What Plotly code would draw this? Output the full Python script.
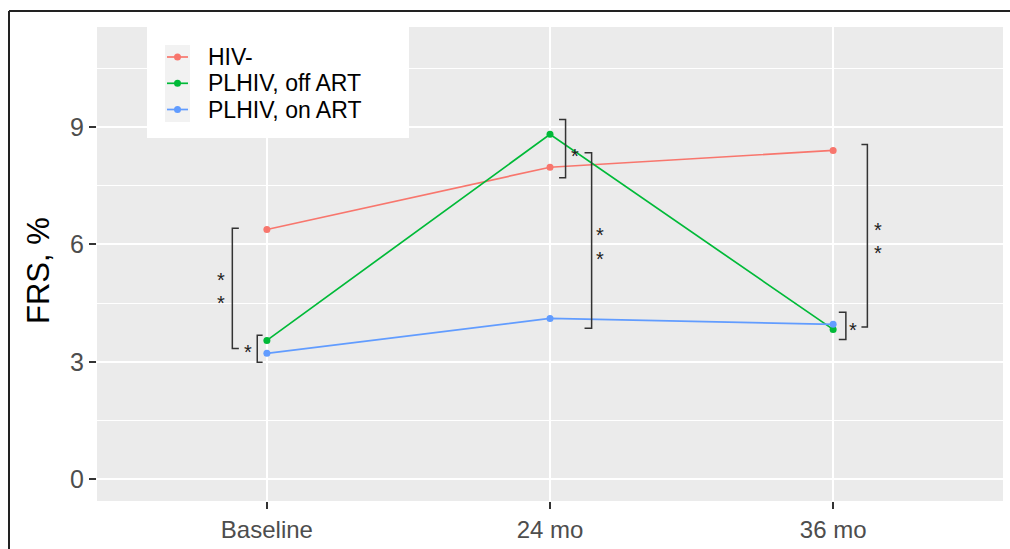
import plotly.graph_objects as go

# ---- data ----
timepoints = ["Baseline", "24 mo", "36 mo"]
x_pos = [1, 2, 3]
groups = ["HIV-", "PLHIV, off ART", "PLHIV, on ART"]
colors = ["#F8766D", "#00BA38", "#619CFF"]
frs_hiv_neg = [6.38, 7.97, 8.40]
frs_off_art = [3.55, 8.81, 3.83]
frs_on_art = [3.22, 4.11, 3.96]
series = [frs_hiv_neg, frs_off_art, frs_on_art]

y_ticks = [0, 3, 6, 9]
y_minor = [1.5, 4.5, 7.5, 10.5]
y_title = "FRS, %"

# significance brackets (x of vertical bar, x of tips, y bottom, y top)
br_x = [0.878, 0.966, 2.055, 2.147, 3.121, 3.045]
br_tip = [0.901, 0.985, 2.032, 2.122, 3.100, 3.020]
br_y0 = [3.34, 2.99, 7.70, 3.86, 3.89, 3.57]
br_y1 = [6.41, 3.68, 9.19, 8.34, 8.55, 4.27]
# significance stars
star_x = [0.839, 0.839, 0.932, 2.088, 2.175, 2.175, 3.158, 3.158, 3.070]
star_y = [5.19, 4.60, 3.36, 8.36, 6.34, 5.73, 6.48, 5.89, 3.91]

W, H = 1010, 549
L, R, T, B = 97, 7, 27, 48
PW, PH = W - L - R, H - T - B

def px(xp):
    return (xp - L) / PW

def py(yp):
    return (H - B - yp) / PH

fig = go.Figure()
for name, vals, col in zip(groups, series, colors):
    fig.add_trace(go.Scatter(
        x=x_pos, y=vals, mode="lines+markers", name=name,
        line=dict(color=col, width=1.7),
        marker=dict(color=col, size=7),
        showlegend=False, hoverinfo="skip"))

shapes = []
br_col = "#333333"
for bx, bt, y0, y1 in zip(br_x, br_tip, br_y0, br_y1):
    shapes.append(dict(type="path", xref="x", yref="y",
                       path=f"M {bt},{y1} L {bx},{y1} L {bx},{y0} L {bt},{y0}",
                       line=dict(color=br_col, width=1.5)))

annotations = []
for sx, sy in zip(star_x, star_y):
    annotations.append(dict(x=sx, y=sy, xref="x", yref="y", text="*",
                            showarrow=False, yshift=-4,
                            font=dict(family="Liberation Sans", size=20, color="#222222")))

# y axis title
annotations.append(dict(x=px(38), y=py(271), xref="paper", yref="paper", text=y_title,
                        showarrow=False, textangle=-90, xanchor="center", yanchor="middle",
                        font=dict(family="Liberation Sans", size=31, color="#000000")))

# outer frame
shapes.append(dict(type="line", xref="paper", yref="paper", x0=px(9), x1=px(1015),
                   y0=py(11), y1=py(11), line=dict(color="#222222", width=2)))
shapes.append(dict(type="line", xref="paper", yref="paper", x0=px(9), x1=px(9),
                   y0=py(11), y1=py(552), line=dict(color="#222222", width=2)))

# manual legend
shapes.append(dict(type="rect", xref="paper", yref="paper", x0=px(147), x1=px(409),
                   y0=py(138), y1=py(20), fillcolor="white", line=dict(width=0), layer="above"))
shapes.append(dict(type="rect", xref="paper", yref="paper", x0=px(165), x1=px(190),
                   y0=py(122), y1=py(45), fillcolor="#F2F2F2", line=dict(width=0), layer="above"))
row_y = [57.0, 83.3, 109.5]
for name, col, ry in zip(groups, colors, row_y):
    shapes.append(dict(type="line", xref="paper", yref="paper", x0=px(167), x1=px(188),
                       y0=py(ry), y1=py(ry), line=dict(color=col, width=1.7), layer="above"))
    shapes.append(dict(type="circle", xref="paper", yref="paper", x0=px(174), x1=px(181),
                       y0=py(ry + 3.5), y1=py(ry - 3.5), fillcolor=col,
                       line=dict(width=0), layer="above"))
    annotations.append(dict(x=px(206), y=py(ry), xref="paper", yref="paper", text=name,
                            showarrow=False, xanchor="left", yanchor="middle",
                            font=dict(family="Liberation Sans", size=23, color="#000000")))

fig.update_layout(
    width=W, height=H,
    margin=dict(l=L, r=R, t=T, b=B, pad=0),
    paper_bgcolor="white", plot_bgcolor="#EBEBEB",
    shapes=shapes, annotations=annotations,
    showlegend=False,
    xaxis=dict(range=[0.4, 3.6], tickvals=x_pos, ticktext=timepoints,
               showgrid=True, gridcolor="white", gridwidth=2.2, zeroline=False,
               ticks="outside", ticklen=7, tickwidth=2, tickcolor="#333333",
               tickfont=dict(family="Liberation Sans", size=24, color="#4D4D4D"),
               showline=False, automargin=False),
    yaxis=dict(range=[-0.55, 11.55], tickvals=y_ticks,
               showgrid=True, gridcolor="white", gridwidth=2.2, zeroline=False,
               ticks="outside", ticklen=7, tickwidth=2, tickcolor="#333333",
               tickfont=dict(family="Liberation Sans", size=25, color="#4D4D4D"),
               minor=dict(tickvals=y_minor, showgrid=True, gridcolor="white", gridwidth=1.1, ticks=""),
               showline=False, automargin=False),
)

fig.write_html("out.html", config={"displayModeBar": False},
               post_script="document.body.style.margin='0';document.body.style.padding='0';")
